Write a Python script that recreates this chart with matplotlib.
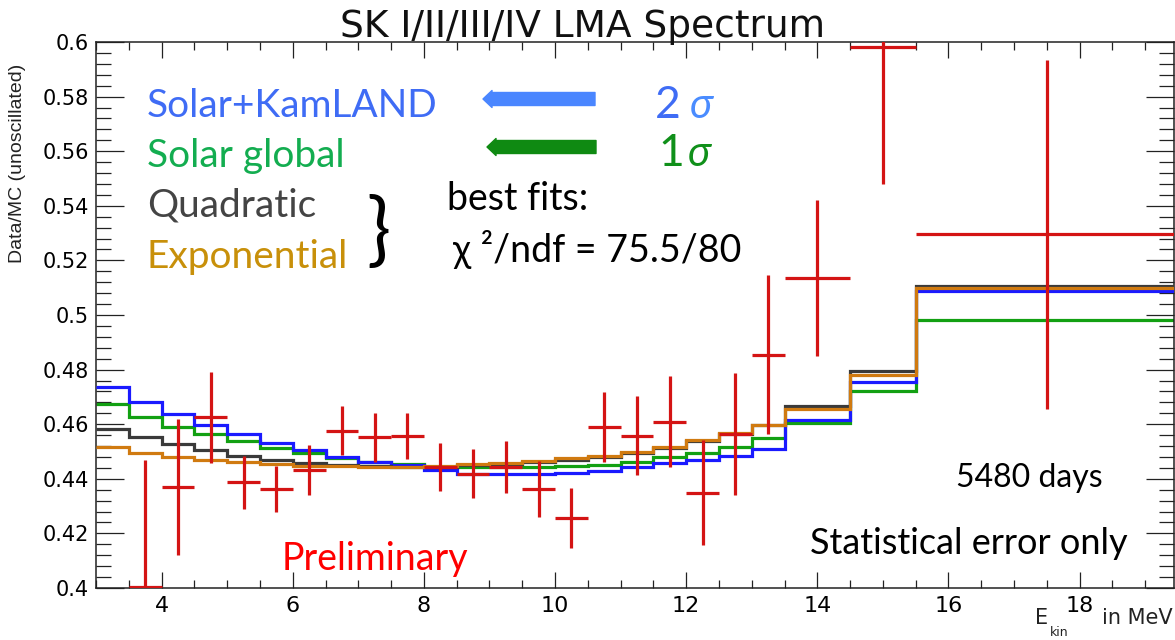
import numpy as np
import matplotlib
matplotlib.use("Agg")
import matplotlib.pyplot as plt
from matplotlib.patches import FancyArrow
from matplotlib.transforms import IdentityTransform

W, H = 1175, 640

# ---------------- data ----------------
model_edges = [3.0, 3.5, 4.0, 4.5, 5.0, 5.5, 6.0, 6.5, 7.0, 7.5, 8.0, 8.5, 9.0,
               9.5, 10.0, 10.5, 11.0, 11.5, 12.0, 12.5, 13.0, 13.5, 14.5, 15.5, 19.5]
solar_kamland = [0.4735, 0.4680, 0.4637, 0.4597, 0.4563, 0.4530, 0.4505, 0.4481,
                 0.4463, 0.4451, 0.4432, 0.4418, 0.4418, 0.4418, 0.4423, 0.4430,
                 0.4444, 0.4457, 0.4469, 0.4484, 0.4508, 0.4615, 0.4755, 0.5087]
solar_global = [0.4674, 0.4628, 0.4591, 0.4564, 0.4538, 0.4512, 0.4496, 0.4477,
                0.4460, 0.4454, 0.4444, 0.4442, 0.4444, 0.4444, 0.4446, 0.4451,
                0.4463, 0.4479, 0.4496, 0.4518, 0.4548, 0.4605, 0.4720, 0.4982]
quadratic = [0.4582, 0.4552, 0.4527, 0.4505, 0.4485, 0.4469, 0.4457, 0.4451,
             0.4447, 0.4444, 0.4444, 0.4451, 0.4454, 0.4463, 0.4469, 0.4479,
             0.4493, 0.4512, 0.4538, 0.4564, 0.4597, 0.4665, 0.4794, 0.5106]
exponential = [0.4518, 0.4496, 0.4481, 0.4469, 0.4460, 0.4453, 0.4448, 0.4447,
               0.4444, 0.4444, 0.4447, 0.4453, 0.4459, 0.4466, 0.4475, 0.4485,
               0.4500, 0.4518, 0.4542, 0.4567, 0.4597, 0.4655, 0.4780, 0.5099]

data_edges = [3.5, 4.0, 4.5, 5.0, 5.5, 6.0, 6.5, 7.0, 7.5, 8.0, 8.5, 9.0, 9.5,
              10.0, 10.5, 11.0, 11.5, 12.0, 12.5, 13.0, 13.5, 14.5, 15.5, 19.5]
data_ratio = [0.4005, 0.4370, 0.4625, 0.4387, 0.4362, 0.4432, 0.4576, 0.4552,
              0.4557, 0.4444, 0.4418, 0.4444, 0.4362, 0.4258, 0.4589, 0.4558,
              0.4609, 0.4349, 0.4564, 0.4855, 0.5136, 0.5980, 0.5295]
data_err = [0.0465, 0.0250, 0.0167, 0.0098, 0.0085, 0.0090, 0.0090, 0.0089,
            0.0083, 0.0087, 0.0090, 0.0095, 0.0103, 0.0110, 0.0128, 0.0145,
            0.0166, 0.0192, 0.0222, 0.0290, 0.0285, 0.0500, 0.0640]

x_major = [4, 6, 8, 10, 12, 14, 16, 18]
y_major = [0.40, 0.42, 0.44, 0.46, 0.48, 0.50, 0.52, 0.54, 0.56, 0.58, 0.60]
y_labels = ['0.4', '0.42', '0.44', '0.46', '0.48', '0.5', '0.52', '0.54',
            '0.56', '0.58', '0.6']

# ---------------- figure ----------------
fig = plt.figure(figsize=(W / 100, H / 100), dpi=100)
fig.patch.set_facecolor('white')
left_px, right_px, top_px, bot_px = 96, 1174, 42, 588
ax = fig.add_axes([left_px / W, (H - bot_px) / H,
                   (right_px - left_px) / W, (bot_px - top_px) / H])

lw = 2.3
ax.stairs(solar_global, model_edges, baseline=None, color='#12a012', lw=lw, zorder=2)
ax.stairs(solar_kamland, model_edges, baseline=None, color='#1a1aff', lw=lw, zorder=3)
ax.stairs(quadratic, model_edges, baseline=None, color='#3a3a3a', lw=lw, zorder=4)
ax.stairs(exponential, model_edges, baseline=None, color='#d07a10', lw=lw, zorder=5)

de = np.array(data_edges)
xc = 0.5 * (de[:-1] + de[1:])
xw = 0.5 * (de[1:] - de[:-1])
ax.errorbar(xc, data_ratio, yerr=data_err, xerr=xw, fmt='none',
            ecolor='#d41414', elinewidth=2.3, capsize=0, zorder=6)

ax.set_xlim(3.0, 19.44)
ax.set_ylim(0.4, 0.6)

ax.set_xticks(x_major)
ax.set_xticks(np.arange(3.0, 19.5, 0.5), minor=True)
ax.set_yticks(y_major)
ax.set_yticklabels(y_labels)
ax.set_yticks(np.arange(0.4, 0.6001, 0.004), minor=True)

ax.tick_params(axis='both', which='both', direction='in', top=True, right=True,
               width=0.9, color='#222222')
ax.tick_params(axis='y', which='major', length=20.5, pad=5, labelsize=15)
ax.tick_params(axis='y', which='minor', length=10.5)
ax.tick_params(axis='x', which='major', length=11.5, pad=6, labelsize=16)
ax.tick_params(axis='x', which='minor', length=5.8)
for lab in ax.get_xticklabels() + ax.get_yticklabels():
    lab.set_family('DejaVu Sans')
for s in ax.spines.values():
    s.set_linewidth(1.1)
    s.set_color('#222222')


def txt(x, y, s, **kw):
    kw.setdefault('va', 'baseline')
    kw.setdefault('ha', 'left')
    return fig.text(x / W, 1 - y / H, s, **kw)


SANS = ['Lato', 'DejaVu Sans']

# ROOT-style title and axis labels
txt(583, 37, 'SK I/II/III/IV LMA Spectrum', ha='center', fontsize=27,
    family='DejaVu Sans', color='#111111')
fig.text(18 / W, 1 - 163 / H, 'Data/MC (unoscillated)', rotation=90,
         ha='center', va='center', fontsize=14, family='Liberation Sans',
         color='#222222')
txt(1035, 624, 'E', fontsize=15, family='DejaVu Sans', color='#222222')
txt(1050, 636, 'kin', fontsize=9, family='DejaVu Sans', color='#222222')
txt(1173, 624, 'in MeV', ha='right', fontsize=15, family='DejaVu Sans',
    color='#222222')

# Slide annotations
txt(147, 117, 'Solar+KamLAND', fontsize=28, family=SANS, color='#3f6cf5')
txt(147, 167, 'Solar global', fontsize=28, family=SANS, color='#13ad50')
txt(147, 217, 'Quadratic', fontsize=28, family=SANS, color='#444444')
txt(147, 268, 'Exponential', fontsize=28, family=SANS, color='#c8900a')
txt(366, 256, '}', fontsize=58, family=['Lato', 'DejaVu Sans'], color='black')

txt(447, 210, 'best fits:', fontsize=27, family=SANS, color='black')
txt(453, 262, 'χ ²/ndf = 75.5/80', fontsize=27, family=SANS, color='black')

txt(655, 118, '2', fontsize=32, family=SANS, color='#3f6cf5')
txt(690, 118, 'σ', fontsize=30, family=SANS, style='italic', color='#4a8cff')
txt(658, 166, '1', fontsize=32, family=SANS, color='#10901a')
txt(688, 166, 'σ', fontsize=30, family=SANS, style='italic', color='#10901a')

# arrows (figure pixels)
for (x0, x1, yy, col) in [(595, 483, 99, '#4a86ff'), (596, 487, 147, '#0f8a12')]:
    arr = FancyArrow(x0, H - yy, x1 - x0, 0, width=13, head_width=17,
                     head_length=9, length_includes_head=True,
                     transform=IdentityTransform(), color=col,
                     joinstyle='round', capstyle='round', lw=1)
    fig.patches.append(arr)

txt(282, 570, 'Preliminary', fontsize=27, family=SANS, color='#ff0000')
txt(956, 487, '5480 days', fontsize=23, family=SANS, color='black')
txt(810, 554, 'Statistical error only', fontsize=26, family=SANS, color='black')

fig.savefig('out.png', dpi=100)
